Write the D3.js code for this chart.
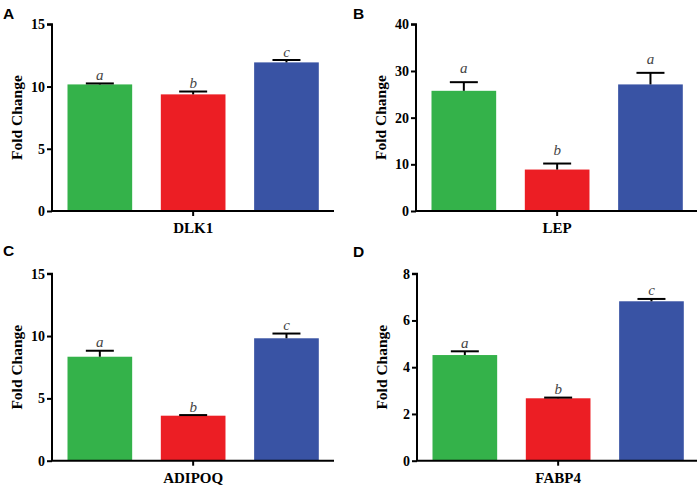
<!DOCTYPE html>
<html><head><meta charset="utf-8">
<script src="https://cdn.jsdelivr.net/npm/d3@7"></script>
<style>body{margin:0;background:#fff}svg{display:block}</style>
</head><body>
<svg id="c" width="700" height="486"></svg>
<script>
const panelLetters = ["A", "B", "C", "D"];
const genes = ["DLK1", "LEP", "ADIPOQ", "FABP4"];
const groups = ["g1", "g2", "g3"];
const colors = ["#34b24a", "#ec1e24", "#3953a4"];
const meansDLK1 = [10.17, 9.37, 11.94];
const errDLK1 = [0.08, 0.23, 0.19];
const meansLEP = [25.75, 8.88, 27.12];
const errLEP = [1.85, 1.29, 2.48];
const meansADIPOQ = [8.34, 3.61, 9.82];
const errADIPOQ = [0.48, 0.05, 0.38];
const meansFABP4 = [4.52, 2.67, 6.82];
const errFABP4 = [0.16, 0.03, 0.10];
const sigDLK1 = ["a", "b", "c"];
const sigLEP = ["a", "b", "a"];
const sigADIPOQ = ["a", "b", "c"];
const sigFABP4 = ["a", "b", "c"];
const yMax = [15, 40, 15, 8];
const yTicksDLK1 = [0, 5, 10, 15];
const yTicksLEP = [0, 10, 20, 30, 40];
const yTicksADIPOQ = [0, 5, 10, 15];
const yTicksFABP4 = [0, 2, 4, 6, 8];

const panels = [
  {letter: panelLetters[0], gene: genes[0], means: meansDLK1, err: errDLK1, sig: sigDLK1, max: yMax[0], ticks: yTicksDLK1},
  {letter: panelLetters[1], gene: genes[1], means: meansLEP, err: errLEP, sig: sigLEP, max: yMax[1], ticks: yTicksLEP},
  {letter: panelLetters[2], gene: genes[2], means: meansADIPOQ, err: errADIPOQ, sig: sigADIPOQ, max: yMax[2], ticks: yTicksADIPOQ},
  {letter: panelLetters[3], gene: genes[3], means: meansFABP4, err: errFABP4, sig: sigFABP4, max: yMax[3], ticks: yTicksFABP4}
];
// layout per panel
const layout = [
  {ox: 0, ly: 18.5, ax: 52, top: 24.3, bot: 211, xEnd: 334, sigGap: 3.5},
  {ox: 350, ly: 18.5, ax: 416, top: 24.3, bot: 211, xEnd: 697, sigGap: 9},
  {ox: 0, ly: 255.5, ax: 52, top: 273.7, bot: 460.7, xEnd: 334, sigGap: 3.5},
  {ox: 350, ly: 256.5, ax: 417, top: 273.7, bot: 460.7, xEnd: 697, sigGap: 3.5}
];

const svg = d3.select("#c");
const serif = "'Liberation Serif','Times New Roman',serif";

panels.forEach((p, i) => {
  const L = layout[i];
  const g = svg.append("g");
  const y = d3.scaleLinear().domain([0, p.max]).range([L.bot, L.top]);
  const start = L.ax + 15.5;
  const x = d3.scaleBand().domain(groups).range([start, start + 251.3]).paddingInner(0.307).paddingOuter(0);

  g.selectAll("rect.bar").data(p.means).enter().append("rect")
    .attr("x", (d, k) => x(groups[k]))
    .attr("width", x.bandwidth())
    .attr("y", d => y(d))
    .attr("height", d => y(0) - y(d))
    .attr("fill", (d, k) => colors[k]);

  const capW = 28;
  p.means.forEach((m, k) => {
    const cx = x(groups[k]) + x.bandwidth() / 2;
    const yt = y(m + p.err[k]);
    g.append("line").attr("x1", cx).attr("x2", cx).attr("y1", y(m)).attr("y2", yt)
      .attr("stroke", "#000").attr("stroke-width", 2);
    g.append("line").attr("x1", cx - capW / 2).attr("x2", cx + capW / 2).attr("y1", yt).attr("y2", yt)
      .attr("stroke", "#000").attr("stroke-width", 2);
    g.append("text").attr("x", cx).attr("y", yt - L.sigGap)
      .attr("text-anchor", "middle").attr("font-family", serif).attr("font-style", "italic")
      .attr("font-size", 15).attr("fill", "#444").text(p.sig[k]);
  });

  const yAxis = d3.axisLeft(y).tickValues(p.ticks).tickSize(5).tickPadding(2).tickFormat(d3.format("d"));
  const ya = g.append("g").attr("transform", `translate(${L.ax},0)`).call(yAxis);
  ya.select(".domain").attr("stroke", "#000").attr("stroke-width", 2).attr("d", `M-5,${L.top}H0V${L.bot}`);
  ya.selectAll(".tick line").attr("stroke", "#000").attr("stroke-width", 2);
  ya.selectAll(".tick text").attr("font-family", serif).attr("font-weight", "bold").attr("font-size", 14).attr("fill", "#000");

  const midX = x(groups[1]) + x.bandwidth() / 2;
  g.append("line").attr("x1", L.ax - 1).attr("x2", L.xEnd).attr("y1", L.bot).attr("y2", L.bot)
    .attr("stroke", "#000").attr("stroke-width", 2);
  g.append("line").attr("x1", midX).attr("x2", midX).attr("y1", L.bot).attr("y2", L.bot + 5)
    .attr("stroke", "#000").attr("stroke-width", 2);
  g.append("text").attr("x", midX).attr("y", L.bot + 22)
    .attr("text-anchor", "middle").attr("font-family", serif).attr("font-weight", "bold")
    .attr("font-size", 15).attr("fill", "#000").text(p.gene);

  g.append("text").attr("transform", `translate(${L.ax - 30},${(L.top + L.bot) / 2}) rotate(-90)`)
    .attr("text-anchor", "middle").attr("font-family", serif).attr("font-weight", "bold")
    .attr("font-size", 15.5).attr("fill", "#000").text("Fold Change");

  g.append("text").attr("x", L.ox + 3).attr("y", L.ly)
    .attr("font-family", "'Liberation Sans',Arial,sans-serif").attr("font-weight", "bold")
    .attr("font-size", 15.5).attr("fill", "#000").text(p.letter);
});
</script>
</body></html>
